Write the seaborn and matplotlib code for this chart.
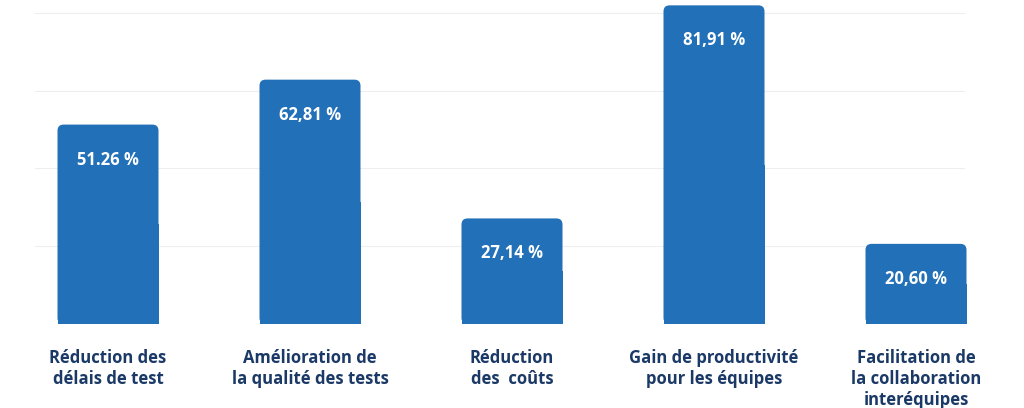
import matplotlib
matplotlib.use("Agg")
import matplotlib.pyplot as plt
import seaborn as sns
import pandas as pd
from matplotlib.patches import FancyBboxPatch, Rectangle

categories = ["Réduction des\ndélais de test", "Amélioration de\nla qualité des tests",
              "Réduction\ndes  coûts", "Gain de productivité\npour les équipes",
              "Facilitation de\nla collaboration\ninteréquipes"]
values = [51.26, 62.81, 27.14, 81.91, 20.60]
value_labels = ["51.26 %", "62,81 %", "27,14 %", "81,91 %", "20,60 %"]

bar_colour = "#2270b8"
text_colour = "#1b3966"

sns.set_style("white")
plt.rcParams["font.family"] = ["Open Sans", "DejaVu Sans"]

fig = plt.figure(figsize=(10.24, 4.08), dpi=100)
ax = fig.add_axes([7 / 1024, 84 / 408, 1010 / 1024, 319 / 408])

df = pd.DataFrame({"cat": categories, "val": values})
sns.barplot(data=df, x="cat", y="val", color=bar_colour, width=0.5, ax=ax)
ax.set_xlim(-0.5, 4.5)
ax.set_ylim(0, 82)

# swap seaborn's square bars for ones with rounded tops
for p in list(ax.patches):
    x, w, h = p.get_x(), p.get_width(), p.get_height()
    p.set_visible(False)
    ax.add_patch(FancyBboxPatch((x, 0), w, h, boxstyle="round,pad=0,rounding_size=0.03",
                                mutation_aspect=52, color=bar_colour, lw=0, zorder=3))
    ax.add_patch(Rectangle((x, 0), w, h / 2, color=bar_colour, lw=0, zorder=3))

for i, (v, lab) in enumerate(zip(values, value_labels)):
    ax.text(i, v - 9, lab, ha="center", va="center", color="white",
            fontsize=12, fontweight="bold", zorder=4)

for g in [0, 20, 40, 60, 80]:
    ax.axhline(g, xmin=0.028, xmax=0.948, color="#eeeeee", lw=0.8, zorder=1)

ax.set_xticks(range(5))
ax.set_xticklabels(categories, fontsize=12, fontweight="bold", color=text_colour,
                   linespacing=1.2, va="top")
ax.tick_params(axis="x", length=0, pad=18)
ax.set_yticks([])
ax.set_xlabel("")
ax.set_ylabel("")
for spine in ax.spines.values():
    spine.set_visible(False)

fig.savefig("out.png", dpi=100)
